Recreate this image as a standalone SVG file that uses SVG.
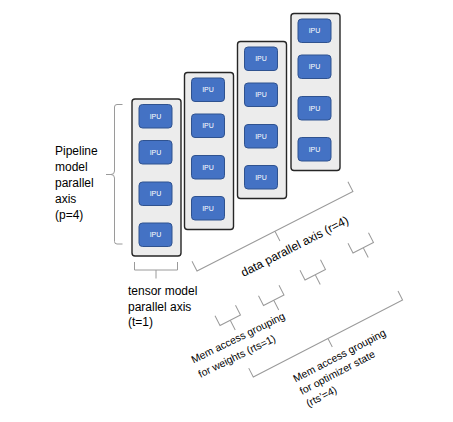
<svg xmlns="http://www.w3.org/2000/svg" width="453" height="422" viewBox="0 0 453 422">
<style>
.col{fill:#ececec;stroke:#262626;stroke-width:1.4}
.ipu{fill:#4472c4;stroke:#2f528f;stroke-width:1}
.ipt{font-family:"Liberation Sans",Arial,sans-serif;font-size:7px;fill:#ffffff;text-anchor:middle}
.br{fill:none;stroke:#9a9a9a;stroke-width:1}
.lbl{font-family:"Liberation Sans",Arial,sans-serif;font-size:12px;fill:#000}
.sm{font-family:"Liberation Sans",Arial,sans-serif;font-size:10.5px;fill:#000}
</style>
<defs>
<g id="ipuShape"><rect class="ipu" x="0" y="0" width="33" height="23.5" rx="3.5"/><text class="ipt" x="16.5" y="14.3">IPU</text></g>
<g id="colShape">
<rect class="col" x="0" y="0" width="49" height="157" rx="3"/>
<use href="#ipuShape" x="7" y="5.5"/>
<use href="#ipuShape" x="7" y="41.5"/>
<use href="#ipuShape" x="7" y="83"/>
<use href="#ipuShape" x="7" y="124"/>
</g>
</defs>
<rect width="453" height="422" fill="#ffffff"/>
<g id="column1" transform="translate(132,99)"><use href="#colShape"/></g>
<g id="column2" transform="translate(184.5,72.5)"><use href="#colShape"/></g>
<g id="column3" transform="translate(237.5,41.5)"><use href="#colShape"/></g>
<g id="column4" transform="translate(291,13.5)"><use href="#colShape"/></g>
<g id="connectors">
<path class="br" d="M122.5,104.5 H117 Q114.5,104.5 114.5,107 V171 Q114.5,174.5 111,174.5 H106 M111,174.5 Q114.5,174.5 114.5,178 V241.5 Q114.5,244 117,244 H122.5"/>
<path class="br" d="M134.5,262 V270 H177.5 V262 M156,270 V278.5"/>
<path class="br" transform="translate(197,271) rotate(-27)" d="M0,-11 V0 H175 V-11 M87.5,0 V11"/>
<path class="br" transform="translate(253.3,377) rotate(-27.3)" d="M0,-10 V0 H168 V-10 M84,0 V9.5"/>
<path class="br" transform="translate(220,325.5) rotate(-27)" d="M0,-11 V0 H23 V-11 M11.5,0 V11"/>
<path class="br" transform="translate(263.5,305.5) rotate(-27)" d="M0,-11 V0 H23 V-11 M11.5,0 V11"/>
<path class="br" transform="translate(305,280) rotate(-27)" d="M0,-11 V0 H23 V-11 M11.5,0 V11"/>
<path class="br" transform="translate(353,253) rotate(-27)" d="M0,-11 V0 H23 V-11 M11.5,0 V11"/>
</g>
<g id="labels">
<text class="lbl"><tspan x="55" y="155">Pipeline</tspan><tspan x="55" y="171">model</tspan><tspan x="55" y="187">parallel</tspan><tspan x="55" y="203">axis</tspan><tspan x="55" y="219">(p=4)</tspan></text>
<text class="lbl"><tspan x="128" y="295">tensor model</tspan><tspan x="128" y="310.5">parallel axis</tspan><tspan x="128" y="326">(t=1)</tspan></text>
<text class="lbl" transform="translate(243.5,277) rotate(-27)">data parallel axis (r=4)</text>
<text class="sm" transform="translate(193.5,363.5) rotate(-26)"><tspan x="0" y="0">Mem access grouping</tspan><tspan x="0" y="16">for weights (rts=1)</tspan></text>
<text class="sm" transform="translate(295.5,382.5) rotate(-27.5)"><tspan x="0" y="0">Mem access grouping</tspan><tspan x="0" y="14">for optimizer state</tspan><tspan x="0" y="28">(rts’=4)</tspan></text>
</g>
</svg>
